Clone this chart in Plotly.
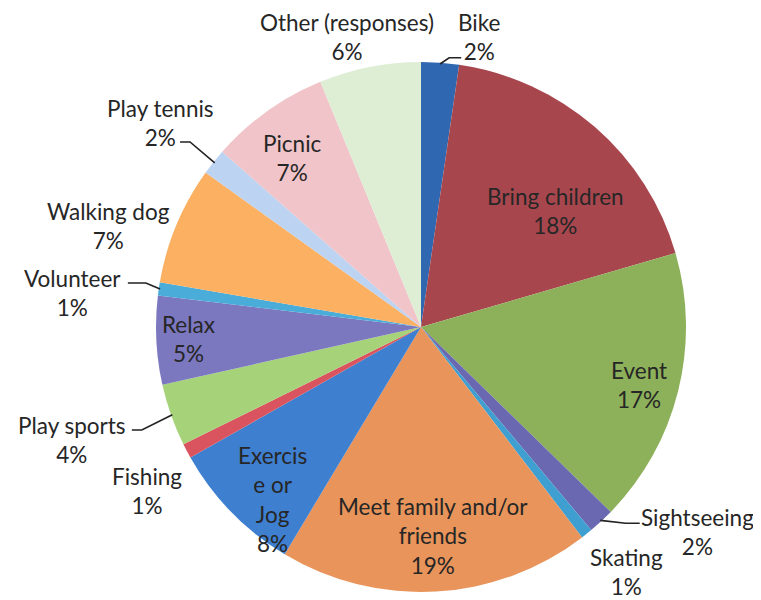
import math
import plotly.graph_objects as go

# ---- data ----
labels = ["Bike", "Bring children", "Event", "Sightseeing", "Skating",
          "Meet family and/or friends", "Exercise or Jog", "Fishing",
          "Play sports", "Relax", "Volunteer", "Walking dog", "Play tennis",
          "Picnic", "Other (responses)"]
display_labels = ["Bike", "Bring children", "Event", "Sightseeing", "Skating",
                  "Meet family and/or<br>friends", "Exercis<br>e or<br>Jog", "Fishing",
                  "Play sports", "Relax", "Volunteer", "Walking dog", "Play tennis",
                  "Picnic", "Other (responses)"]
values = [2.3, 18.2, 16.8, 1.6, 0.7, 19.0, 8.2, 0.9, 3.8, 5.4, 0.8, 7.2, 1.6, 7.3, 6.2]
colors = ["#2F68B0", "#A8464E", "#8DB05A", "#6A68B0", "#3F9FD0", "#E8945A",
          "#3E7FD0", "#D9545E", "#A6D27A", "#7B78C0", "#4AACD8", "#FBB062",
          "#BCD3F2", "#F0C4C8", "#DDEED5"]

# ---- layout / style ----
# the page body has an 8px margin, so the figure is 8px smaller and offset
W, H = 753, 592
CX, CY, R = 413, 319, 265          # pie centre and radius in figure pixels
FONT = dict(family="Lato", size=22.5, color="#262626")

# label placement: (radius factor, angle offset from slice mid-angle in degrees)
label_place = {
    "Bike": (1.117, 7.2), "Bring children": (0.67, 8.0), "Event": (0.85, 1.0),
    "Sightseeing": (1.30, -10.6), "Skating": (1.206, -1.2),
    "Meet family and/or friends": (0.79, 0.0), "Exercise or Jog": (0.86, -5.0),
    "Fishing": (1.205, -3.0), "Play sports": (1.385, 1.5), "Relax": (0.88, 0.0),
    "Volunteer": (1.32, -2.7), "Walking dog": (1.24, -4.7),
    "Play tennis": (1.25, -0.5), "Picnic": (0.80, -1.7),
    "Other (responses)": (1.131, -3.2),
}
# leader lines: (end offset dx, dy from label centre, horizontal stub length)
leaders = {
    "Bike": (-18, 21, -12), "Play tennis": (20, 19, 10), "Volunteer": (55, -10, 18),
    "Play sports": (60, -10, 10), "Sightseeing": (-58, -9, -14),
}

total = sum(values)
mids = []
cum = 0.0
for v in values:
    mids.append((cum + v / 2) / total * 360.0)
    cum += v


def polar(ang, r):
    a = math.radians(ang)
    return CX + r * math.sin(a), CY - r * math.cos(a)


def px(x, y):
    return x / W, 1 - y / H


fig = go.Figure(go.Pie(
    labels=labels, values=values,
    sort=False, direction="clockwise", rotation=0,
    marker=dict(colors=colors, line=dict(width=0)),
    textinfo="none",
    domain=dict(x=[(CX - R) / W, (CX + R) / W], y=[1 - (CY + R) / H, 1 - (CY - R) / H]),
    showlegend=False, hoverinfo="label+percent",
))

annotations = []
shapes = []
for name, disp, v, mid in zip(labels, display_labels, values, mids):
    rf, dth = label_place[name]
    lx, ly = polar(mid + dth, rf * R)
    pct = round(v / total * 100)
    ax, ay = px(lx, ly)
    annotations.append(dict(x=ax, y=ay, xref="paper", yref="paper",
                            text=f"{disp}<br>{pct}%", showarrow=False,
                            xanchor="center", yanchor="middle", align="center",
                            font=FONT))
    if name in leaders:
        dx, dy, stub = leaders[name]
        ex, ey = lx + dx, ly + dy
        bx, by = ex + stub, ey
        sx, sy = polar(mid, R * 0.995)
        p = [px(ex, ey), px(bx, by), px(sx, sy)]
        path = "M {} {} L {} {} L {} {}".format(p[0][0], p[0][1], p[1][0], p[1][1], p[2][0], p[2][1])
        shapes.append(dict(type="path", path=path, xref="paper", yref="paper",
                           line=dict(color="#222222", width=1.6)))

fig.update_layout(width=W, height=H, margin=dict(l=0, r=0, t=0, b=0),
                  paper_bgcolor="white", plot_bgcolor="white",
                  annotations=annotations, shapes=shapes)
fig.write_html("out.html")
